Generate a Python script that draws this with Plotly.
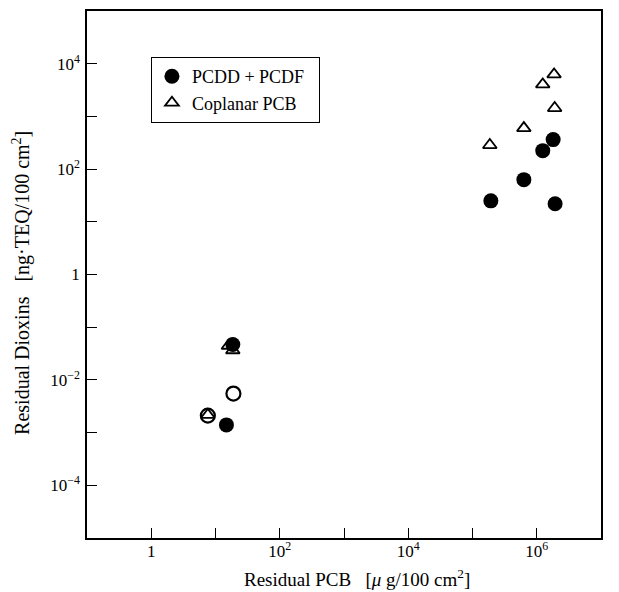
import plotly.graph_objects as go

# PCDD+PCDF (filled circles)
pcdd_x = [1.93e5, 6.3e5, 1.24e6, 1.8e6, 1.93e6, 18.6, 14.8]
pcdd_y = [25, 63, 224, 363, 22, 0.047, 0.0014]

# Coplanar PCB (open triangles)
cop_x = [1.86e6, 1.24e6, 1.9e6, 6.3e5, 1.86e5, 15.9, 18.6, 7.6]
cop_y = [6270, 4050, 1440, 600, 286, 0.0445, 0.0365, 0.00217]

# Open circles (unlabelled)
open_x = [19.0, 7.6]
open_y = [0.0055, 0.0021]

x_tickvals = [0.1, 1, 10, 100, 1e3, 1e4, 1e5, 1e6, 1e7]
x_ticktext = ["", "1", "", "10<sup>2</sup>", "", "10<sup>4</sup>", "", "10<sup>6</sup>", ""]
y_tickvals = [1e-5, 1e-4, 1e-3, 1e-2, 0.1, 1, 10, 100, 1e3, 1e4, 1e5]
y_ticktext = ["", "10<sup>−4</sup>", "", "10<sup>−2</sup>", "", "1", "", "10<sup>2</sup>", "", "10<sup>4</sup>", ""]

FONT = "Liberation Serif, Times New Roman, serif"

fig = go.Figure()
fig.add_trace(go.Scatter(
    x=open_x, y=open_y, mode="markers", showlegend=False,
    marker=dict(symbol="circle-open", size=14, color="black", line=dict(width=2.2, color="black"))))
fig.add_trace(go.Scatter(
    x=pcdd_x, y=pcdd_y, mode="markers", name="PCDD + PCDF&nbsp;&nbsp;",
    marker=dict(symbol="circle", size=15, color="black")))
fig.add_trace(go.Scatter(
    x=cop_x, y=cop_y, mode="markers", name="Coplanar PCB&nbsp;&nbsp;",
    marker=dict(symbol="triangle-up-open", size=12, color="black", line=dict(width=1.8, color="black"))))

axis_common = dict(
    type="log", showgrid=False, zeroline=False, showline=True, linecolor="black",
    linewidth=1.5, mirror=True, ticks="inside", ticklen=10, tickwidth=1.2,
    tickcolor="black", tickfont=dict(family=FONT, size=17, color="black"),
)

fig.update_xaxes(**axis_common, range=[-1, 7], tickmode="array",
                 tickvals=x_tickvals, ticktext=x_ticktext, ticklabelstandoff=-3)
fig.update_yaxes(**axis_common, range=[-5, 5], tickmode="array",
                 tickvals=y_tickvals, ticktext=y_ticktext, ticklabelstandoff=2)

fig.add_annotation(text="Residual Dioxins&nbsp;&nbsp;&nbsp;[ng·TEQ/100 cm<sup>2</sup>]",
                   xref="paper", yref="paper", x=-0.1265, y=0.484,
                   xanchor="center", yanchor="middle", textangle=-90, showarrow=False,
                   font=dict(family=FONT, size=20, color="black"))
fig.add_annotation(text="Residual PCB&nbsp;&nbsp;&nbsp;[<i>μ</i> g/100 cm<sup>2</sup>]",
                   xref="paper", yref="paper", x=0.525, y=-0.0756,
                   xanchor="center", yanchor="middle", showarrow=False,
                   font=dict(family=FONT, size=19, color="black"))

fig.update_layout(
    width=619, height=592,
    margin=dict(l=79, r=26, t=1, b=62),
    paper_bgcolor="white", plot_bgcolor="white",
    font=dict(family=FONT, color="black"),
    legend=dict(x=0.124, y=0.913, xanchor="left", yanchor="top",
                bordercolor="black", borderwidth=1.2, bgcolor="white",
                font=dict(family=FONT, size=18, color="black"),
                itemsizing="trace", tracegroupgap=2),
)

fig.write_html("out.html")
